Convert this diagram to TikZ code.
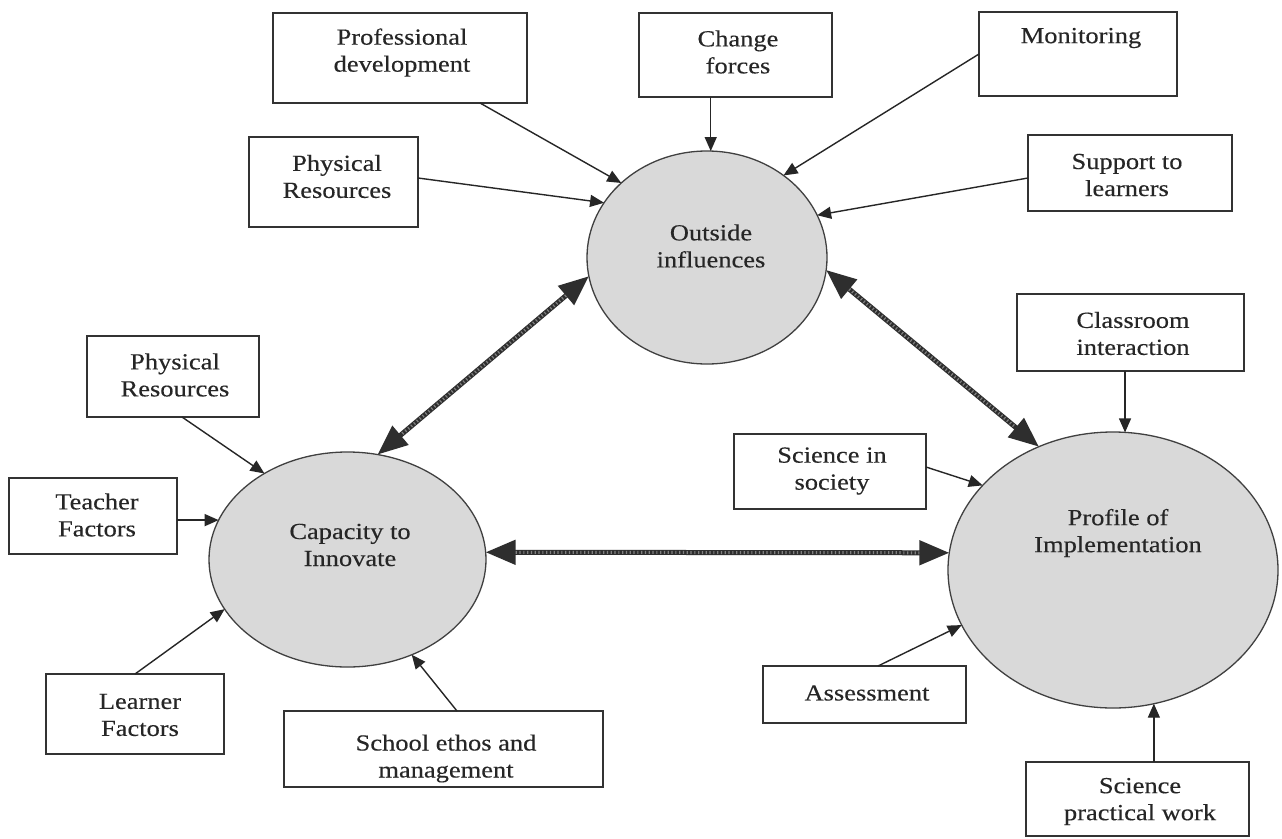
\documentclass[tikz,border=0pt]{standalone}
\usepackage{fontspec}
\setmainfont{Liberation Serif}[FakeStretch=1.15,FakeBold=0.3]
\usetikzlibrary{arrows.meta,calc,shapes.geometric}
\begin{document}
\begin{tikzpicture}[x=1pt,y=-1pt,
  box/.style={draw=black!80, line width=1.3pt, inner sep=0pt, outer sep=0pt, fill=white},
  txt/.style={align=center, font=\fontsize{23}{27}\selectfont, text=black!85, inner sep=0pt},
  oval/.style={ellipse, draw=black!75, line width=1.3pt, fill=black!15, inner sep=0pt, outer sep=0pt},
  arr/.style={line width=1.4pt, draw=black!85, -{Triangle[length=14pt,width=12pt]}},
  dbl/.style={line width=5pt, draw=black!82, {Triangle[length=30pt,width=24pt]}-{Triangle[length=30pt,width=24pt]}},
  hatch/.style={line width=3pt, draw=black!50, dash pattern=on 1.2pt off 2.6pt}
]
\useasboundingbox (0,0) rectangle (1282,838);
\fill[white] (0,0) rectangle (1282,838);

% ellipses
\node[oval, minimum width=240pt, minimum height=213pt] (oi) at (707,257.5) {};
\node[txt] (oit) at (711,246) {Outside\\influences};
\node[oval, minimum width=277pt, minimum height=215pt] (ci) at (347.5,559.5) {};
\node[txt] (cit) at (350,545) {Capacity to\\Innovate};
\node[oval, minimum width=330pt, minimum height=276pt] (pi) at (1113,570) {};
\node[txt] (pit) at (1118,533) {Profile of\\Implementation};

% boxes
\node[box, minimum width=254pt, minimum height=90pt] (pd) at (400,58) {};
\node[txt] (pdt) at (402,52.5) {Professional\\development};
\node[box, minimum width=193pt, minimum height=84pt] (cf) at (735.5,55) {};
\node[txt] (cft) at (738,52) {Change\\forces};
\node[box, minimum width=198pt, minimum height=84pt] (mon) at (1078,54) {};
\node[txt] (mont) at (1081,38) {Monitoring};
\node[box, minimum width=169pt, minimum height=90pt] (pr1) at (333.5,182) {};
\node[txt] (pr1t) at (337,176.5) {Physical\\Resources};
\node[box, minimum width=204pt, minimum height=76pt] (sl) at (1130,173) {};
\node[txt] (slt) at (1127,175) {Support to\\learners};
\node[box, minimum width=172pt, minimum height=81pt] (pr2) at (173,376.5) {};
\node[txt] (pr2t) at (175,375) {Physical\\Resources};
\node[box, minimum width=168pt, minimum height=76pt] (tf) at (93,516) {};
\node[txt] (tft) at (97,515) {Teacher\\Factors};
\node[box, minimum width=178pt, minimum height=80pt] (lf) at (135,714) {};
\node[txt] (lft) at (140,715) {Learner\\Factors};
\node[box, minimum width=319pt, minimum height=76pt] (se) at (443.5,749) {};
\node[txt] (set) at (446,758.5) {School ethos and\\management};
\node[box, minimum width=227pt, minimum height=77pt] (cr) at (1130.5,332.5) {};
\node[txt] (crt) at (1133,333.5) {Classroom\\interaction};
\node[box, minimum width=192pt, minimum height=75pt] (si) at (830,471.5) {};
\node[txt] (sit) at (832,471) {Science in\\society};
\node[box, minimum width=203pt, minimum height=57pt] (as) at (864.5,694.5) {};
\node[txt] (ast) at (867,693) {Assessment};
\node[box, minimum width=223pt, minimum height=74pt] (sp) at (1137.5,799) {};
\node[txt] (spt) at (1140,801.5) {Science\\practical work};

% thin arrows
\draw[arr] ($(pd.south west)!0.815!(pd.south east)$) -- (oi.139);
\draw[arr] ($(pr1.east)+(0,-4)$) -- (oi.152);
\draw[arr] (cf.south -| oi.88) -- (oi.88);
\draw[arr] (mon.west) -- (oi.47);
\draw[arr] ($(sl.west)+(0,5)$) -- (oi.21);
\draw[arr] ($(pr2.south)+(9,0)$) -- (ci.134);
\draw[arr] (tf.east |- ci.163) -- (ci.163);
\draw[arr] (lf.north) -- (ci.202);
\draw[arr] ($(se.north)+(13.5,0)$) -- (ci.-56);
\draw[arr] (cr.south -| pi.85) -- (pi.85);
\draw[arr] ($(si.east)+(0,-4.5)$) -- (pi.147);
\draw[arr] ($(as.north)+(13.5,0)$) -- (pi.200);
\draw[arr] (sp.north -| pi.-73) -- (pi.-73);

% double arrows
\draw[dbl] (oi.-171) -- (ci.74);
\draw[hatch, shorten <=30pt, shorten >=30pt] (oi.-171) -- (ci.74);
\draw[dbl] (oi.-6) -- (pi.121);
\draw[hatch, shorten <=30pt, shorten >=30pt] (oi.-6) -- (pi.121);
\draw[dbl] (ci.3) -- (pi.174);
\draw[hatch, shorten <=30pt, shorten >=30pt] (ci.3) -- (pi.174);
\end{tikzpicture}
\end{document}
